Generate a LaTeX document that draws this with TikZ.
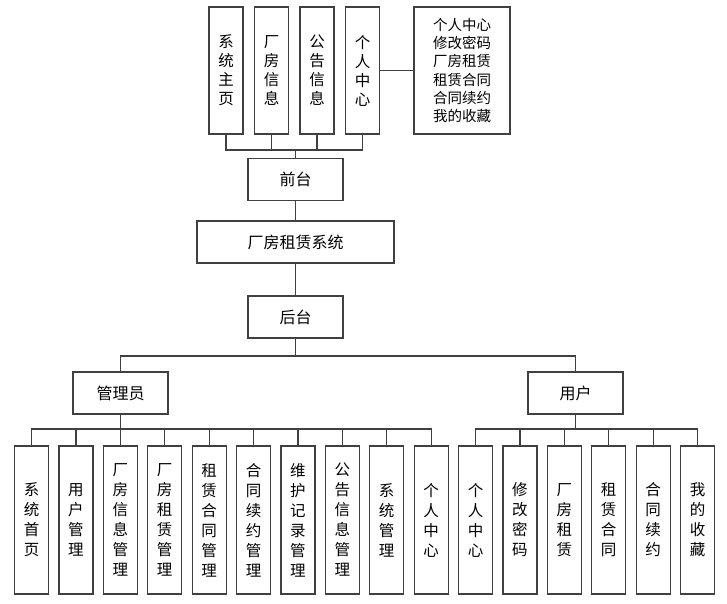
\documentclass[tikz,border=0pt]{standalone}
\usepackage{fontspec}
\setmainfont{Noto Sans CJK SC}

\tikzset{
    box/.style={draw=black!75, line width=1.2pt, inner sep=0pt, align=center,
        font=\fontsize{15.5}{20}\selectfont},
    topbox/.style={box, minimum width=34pt, minimum height=127pt,
        font=\fontsize{15.5}{19}\selectfont},
    leafbox/.style={box, minimum width=34pt, minimum height=148pt},
    hbox/.style={box, minimum width=95pt, minimum height=42pt,
        font=\fontsize{16}{18}\selectfont},
    link/.style={draw=black!75, line width=1.2pt}
}

\begin{document}
\begin{tikzpicture}[x=1pt, y=-1pt]
    \useasboundingbox (0,0) rectangle (727,604);

    % front end
    \node [topbox] (t1) at (226,70.5) {系\\统\\主\\页};
    \node [topbox] (t2) at (271.5,70.5) {厂\\房\\信\\息};
    \node [topbox] (t3) at (317,70.5) {公\\告\\信\\息};
    \node [topbox] (t4) at (362.5,70.5) {个\\人\\中\\心};
    \node [box, minimum width=96pt, minimum height=127pt,
        font=\fontsize{14.5}{18.3}\selectfont] (tlist) at (462,70.5)
        {个人中心\\修改密码\\厂房租赁\\租赁合同\\合同续约\\我的收藏};
    \node [hbox] (qiantai) at (295.5,179.5) {前台};

    % middle
    \node [hbox, minimum width=197pt] (xitong) at (295.5,242) {厂房租赁系统};
    \node [hbox] (houtai) at (295.5,317) {后台};
    \node [hbox] (admin) at (120.5,393) {管理员};
    \node [hbox] (user) at (575.5,393) {用户};

    % leaves
    \foreach \lbl [count=\i] in {系\\统\\首\\页, 用\\户\\管\\理,
        厂\\房\\信\\息\\管\\理, 厂\\房\\租\\赁\\管\\理, 租\\赁\\合\\同\\管\\理,
        合\\同\\续\\约\\管\\理, 维\\护\\记\\录\\管\\理, 公\\告\\信\\息\\管\\理,
        系\\统\\管\\理, 个\\人\\中\\心}
        \node [leafbox] (a\i) at ({31.5+44.4*(\i-1)},520) {\lbl};
    \foreach \lbl [count=\i] in {个\\人\\中\\心, 修\\改\\密\\码, 厂\\房\\租\\赁,
        租\\赁\\合\\同, 合\\同\\续\\约, 我\\的\\收\\藏}
        \node [leafbox] (u\i) at ({475.5+44.4*(\i-1)},520) {\lbl};

    \coordinate (tbus) at (0,150);
    \coordinate (mbus) at (0,356);
    \coordinate (abus) at (0,429);

    % connectors
    \draw [link] (t1.south) |- (t1.south |- tbus) -| (t4.south);
    \draw [link] (t2.south) -- (t2.south |- tbus);
    \draw [link] (t3.south) -- (t3.south |- tbus);
    \draw [link] (qiantai.north) -- (qiantai.north |- tbus);
    \draw [link] (t4.east) -- (tlist.west);
    \draw [link] (qiantai.south) -- (xitong.north);
    \draw [link] (xitong.south) -- (houtai.north);
    \draw [link] (houtai.south) -- (houtai.south |- mbus);
    \draw [link] (admin.north) |- (houtai.south |- mbus) -| (user.north);

    \draw [link] (a1.north) |- (admin.south |- abus) -| (a10.north);
    \draw [link] (admin.south) -- (admin.south |- abus);
    \foreach \i in {2,...,9}
        \draw [link] (a\i.north) -- (a\i.north |- abus);
    \draw [link] (u1.north) |- (user.south |- abus) -| (u6.north);
    \draw [link] (user.south) -- (user.south |- abus);
    \foreach \i in {2,...,5}
        \draw [link] (u\i.north) -- (u\i.north |- abus);
\end{tikzpicture}
\end{document}
